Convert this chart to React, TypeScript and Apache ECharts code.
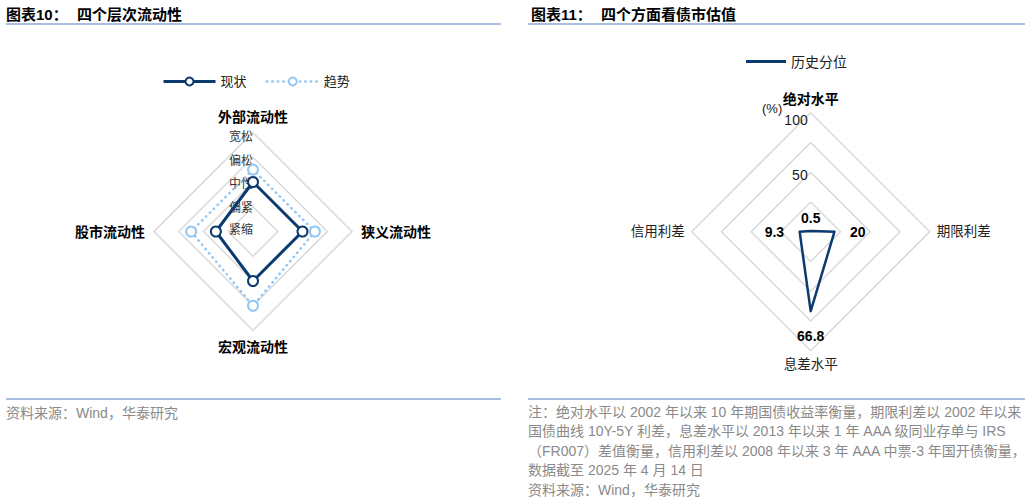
import React, { useEffect, useRef } from 'react';
import * as echarts from 'echarts';

// 图表10：四个层次流动性
const LIQ_INDICATORS = ['外部流动性', '股市流动性', '宏观流动性', '狭义流动性'];
const LIQ_LEVELS = ['紧缩', '偏紧', '中性', '偏松', '宽松'];
const LIQ_CURRENT = [2, 1.5, 2, 2];
const LIQ_TREND = [2.5, 2.5, 3, 2.5];

// 图表11：四个方面看债市估值
const VAL_INDICATORS = ['绝对水平', '信用利差', '息差水平', '期限利差'];
const VAL_PERCENTILE = [0.5, 9.3, 66.8, 20];
const VAL_TICK_LABELS = [50, 100];

const NOTE_LINES = [
  '注：绝对水平以 2002 年以来 10 年期国债收益率衡量，期限利差以 2002 年以来',
  '国债曲线 10Y-5Y 利差，息差水平以 2013 年以来 1 年 AAA 级同业存单与 IRS',
  '（FR007）差值衡量，信用利差以 2008 年以来 3 年 AAA 中票-3 年国开债衡量，',
  '数据截至 2025 年 4 月 14 日',
];
const SOURCE = '资料来源：Wind，华泰研究';

const NAVY = '#0b3a6e';
const LIGHT = '#91c8f6';
const GRID = '#d9d9d9';
const RULE = '#8eaad6';
const FONT = "'Liberation Sans', 'Noto Sans CJK SC', sans-serif";

const App: React.FC = () => {
  const chartRef = useRef<HTMLDivElement>(null);

  useEffect(() => {
    if (!chartRef.current) return;
    const chart = echarts.init(chartRef.current, undefined, { renderer: 'svg' });

    const labelPos = ['top', 'left', 'bottom', 'right'];
    const labelDist = [6, 15, 17, 15];
    // one invisible item per point, so each value label can sit on its own side
    const labelItems = VAL_PERCENTILE.map((v, i) => ({
      name: 'l' + i,
      value: VAL_PERCENTILE.map((_, j) => (j === i ? v : '-')),
      symbol: 'circle',
      symbolSize: 1,
      itemStyle: { color: 'rgba(0,0,0,0)' },
      lineStyle: { width: 0, opacity: 0 },
      label: {
        show: true,
        position: labelPos[i],
        distance: labelDist[i],
        color: '#000',
        fontSize: 14,
        fontWeight: 'bold',
        fontFamily: FONT,
      },
    }));

    const text = (x: number, y: number, str: string, size: number, color: string, weight = 'normal') => ({
      type: 'text',
      x,
      y,
      silent: true,
      style: {
        text: str,
        fill: color,
        fontSize: size,
        fontWeight: weight,
        fontFamily: FONT,
        verticalAlign: 'middle',
      },
    });
    const rule = (x1: number, x2: number, y: number) => ({
      type: 'line',
      silent: true,
      shape: { x1, y1: y, x2, y2: y },
      style: { stroke: RULE, lineWidth: 1.5 },
    });

    // small vertical nudges so the ladder labels sit like the original
    const levelRich = {
      hi: { padding: [8, 0, 0, 0] },
      mid: { padding: [3, 0, 0, 0] },
      lo: { padding: [0, 0, 3, 0] },
    };
    const levelLabel = (v: number) => {
      const i = Math.round(v);
      const s = LIQ_LEVELS[i];
      if (!s) return '';
      const k = i >= 3 ? 'hi' : i >= 1 ? 'mid' : 'lo';
      return `{${k}|${s}}`;
    };

    const option: any = {
      animation: false,
      backgroundColor: '#fff',
      textStyle: { fontFamily: FONT },
      graphic: {
        elements: [
          text(6, 14, '图表10：', 15, '#000', 'bold'),
          text(77, 14, '四个层次流动性', 15, '#000', 'bold'),
          text(531, 14, '图表11：', 15, '#000', 'bold'),
          text(601, 14, '四个方面看债市估值', 15, '#000', 'bold'),
          rule(6, 501, 24),
          rule(528, 1025, 24),
          rule(6, 501, 399),
          rule(528, 1025, 399),
          text(6, 413, SOURCE, 14, '#8a8a8a'),
          ...NOTE_LINES.map((l, i) => text(528, 411.5 + i * 19.6, l, 14, '#8a8a8a')),
          text(528, 490, SOURCE, 14, '#8a8a8a'),
          text(762, 108, '(%)', 13, '#222'),
        ],
      },
      legend: [
        {
          left: 162,
          top: 75,
          padding: 0,
          itemWidth: 52,
          itemHeight: 10,
          itemGap: 19,
          textStyle: { fontSize: 13, color: '#222' },
          data: [
            { name: '现状', itemStyle: { color: NAVY }, lineStyle: { color: NAVY, width: 3 } },
            {
              name: '趋势',
              itemStyle: { color: LIGHT },
              lineStyle: { color: LIGHT, width: 2.5, type: [0.5, 5], cap: 'round' },
            },
          ],
        },
        {
          left: 746,
          top: 54.5,
          padding: 0,
          itemWidth: 40,
          itemHeight: 3,
          textStyle: { fontSize: 14, color: '#222' },
          data: [{ name: '历史分位', icon: 'rect', itemStyle: { color: NAVY } }],
        },
      ],
      // hidden grid, only used so the legend draws line-with-marker icons
      grid: { show: false, left: 0, top: 0, width: 1, height: 1 },
      xAxis: { show: false, type: 'category', data: ['a'] },
      yAxis: { show: false, type: 'value' },
      radar: [
        {
          center: [253, 231.5],
          radius: 99,
          startAngle: 90,
          shape: 'polygon',
          splitNumber: 4,
          nameGap: 9,
          indicator: LIQ_INDICATORS.map((name, i) => ({
            name,
            min: 0,
            max: 4,
            ...(i === 0
              ? {
                  axisLabel: {
                    show: true,
                    margin: 0,
                    fontSize: 12,
                    color: '#333',
                    formatter: levelLabel,
                    rich: levelRich,
                  },
                }
              : {}),
          })),
          axisName: { color: '#000', fontSize: 14, fontWeight: 'bold' },
          axisLine: { show: false },
          axisTick: { show: false },
          axisLabel: { show: false },
          splitLine: { lineStyle: { color: GRID, width: 1.5 } },
          splitArea: { show: false },
        },
        {
          center: [810.7, 231.7],
          radius: 119,
          startAngle: 90,
          shape: 'polygon',
          splitNumber: 4,
          nameGap: 7,
          indicator: VAL_INDICATORS.map((name, i) => ({
            name,
            min: 0,
            max: 100,
            ...(i === 0
              ? {
                  axisLabel: {
                    show: true,
                    margin: 3,
                    fontSize: 14,
                    color: '#1a1a1a',
                    formatter: (v: number) =>
                      VAL_TICK_LABELS.includes(v) ? `{${v === 100 ? 't' : 'm'}|${v}}` : '',
                    rich: {
                      t: { padding: [14, 0, 0, 0] },
                      m: { padding: [5, 0, 0, 0] },
                    },
                  },
                }
              : {}),
          })),
          axisName: {
            color: '#222',
            fontSize: 13.5,
            formatter: (name: string) => (name === VAL_INDICATORS[0] ? `{b|${name}}` : name),
            rich: { b: { fontWeight: 'bold', fontSize: 14, color: '#000' } },
          },
          axisLine: { show: false },
          axisTick: { show: false },
          axisLabel: { show: false },
          splitLine: { lineStyle: { color: GRID, width: 1.5 } },
          splitArea: { show: false },
        },
      ],
      series: [
        {
          type: 'line',
          name: '现状',
          data: [],
          symbol: 'emptyCircle',
          lineStyle: { color: NAVY, width: 3 },
          itemStyle: { color: NAVY },
        },
        {
          type: 'line',
          name: '趋势',
          data: [],
          symbol: 'emptyCircle',
          lineStyle: { color: LIGHT, width: 2.5, type: [0.5, 5], cap: 'round' },
          itemStyle: { color: LIGHT },
        },
        {
          type: 'radar',
          radarIndex: 0,
          data: [
            {
              name: '趋势',
              value: LIQ_TREND,
              symbol: 'emptyCircle',
              symbolSize: 10,
              lineStyle: { color: LIGHT, width: 2.5, type: [0.5, 5], cap: 'round' },
              itemStyle: { color: LIGHT, borderWidth: 2.5 },
            },
            {
              name: '现状',
              value: LIQ_CURRENT,
              symbol: 'emptyCircle',
              symbolSize: 10,
              lineStyle: { color: NAVY, width: 3 },
              itemStyle: { color: NAVY, borderWidth: 2.5 },
            },
          ],
        },
        {
          type: 'radar',
          radarIndex: 1,
          data: [
            {
              name: '历史分位',
              value: VAL_PERCENTILE,
              symbol: 'none',
              lineStyle: { color: NAVY, width: 2.5 },
              itemStyle: { color: NAVY },
            },
            ...labelItems,
          ],
        },
      ],
    };

    chart.setOption(option);

    return () => {
      chart.dispose();
    };
  }, []);

  return (
    <div
      ref={chartRef}
      style={{ position: 'absolute', left: 0, top: 0, width: 1030, height: 504 }}
    />
  );
};

export default App;
